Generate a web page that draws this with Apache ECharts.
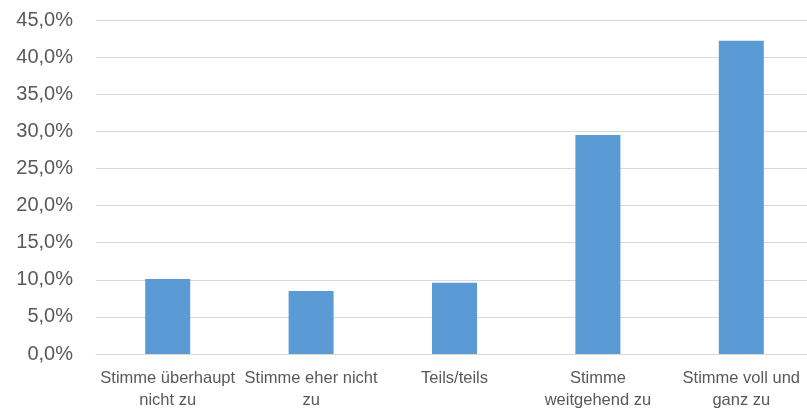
<!DOCTYPE html>
<html>
<head>
<meta charset="utf-8">
<script src="https://cdn.jsdelivr.net/npm/echarts@6/dist/echarts.min.js"></script>
<style>
    html, body { margin: 0; padding: 0; background: #fff; overflow: hidden; }
    #chart { width: 813px; height: 411px; }
</style>
</head>
<body>
<div id="chart"></div>
<script>
//类别
var categories = [
    "Stimme überhaupt\nnicht zu",
    "Stimme eher nicht\nzu",
    "Teils/teils",
    "Stimme\nweitgehend zu",
    "Stimme voll und\nganz zu"
];

//数值 (%)
var values = [10.1, 8.5, 9.6, 29.5, 42.2];

//Y轴刻度
var yMin = 0;
var yMax = 45;
var yStep = 5;

var myChart = echarts.init(document.getElementById("chart"));

var option = {
    animation: false,
    grid: {
        left: 96,
        right: 0,
        top: 20,
        bottom: 56,
        containLabel: false
    },
    xAxis: {
        type: "category",
        data: categories,
        axisLine: { lineStyle: { color: "#d9d9d9", width: 1 } },
        axisTick: { show: false },
        axisLabel: {
            interval: 0,
            color: "#595959",
            fontFamily: "Liberation Sans",
            fontSize: 16.5,
            lineHeight: 22,
            margin: 13
        }
    },
    yAxis: {
        type: "value",
        min: yMin,
        max: yMax,
        interval: yStep,
        axisLine: { show: false },
        axisTick: { show: false },
        splitLine: { lineStyle: { color: "#d9d9d9", width: 1 } },
        axisLabel: {
            color: "#595959",
            fontFamily: "Liberation Sans",
            fontSize: 20,
            margin: 23,
            formatter: function (v) {
                return v.toFixed(1).replace(".", ",") + "%";
            }
        }
    },
    series: [{
        type: "bar",
        data: values,
        barWidth: 45,
        itemStyle: { color: "#5b9bd5" }
    }]
};

myChart.setOption(option);
</script>
</body>
</html>
